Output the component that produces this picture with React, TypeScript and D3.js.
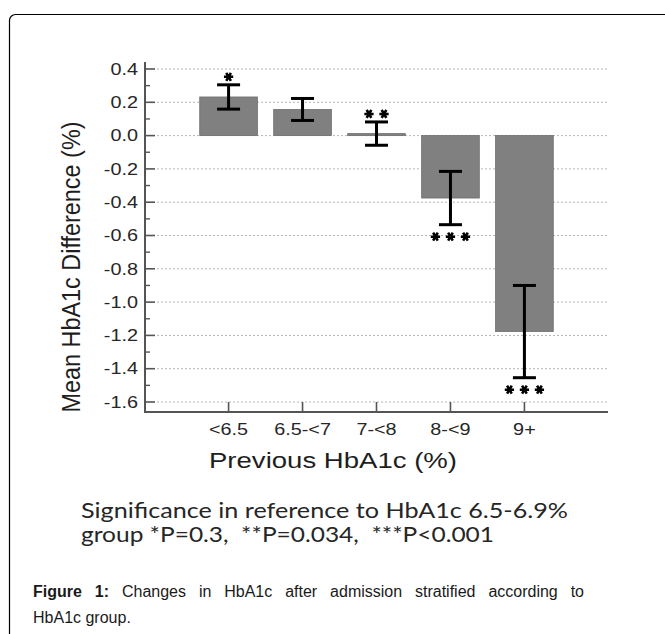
import React, { useEffect, useRef } from "react";
import * as d3 from "d3";

const categories = ["<6.5", "6.5-<7", "7-<8", "8-<9", "9+"];
const meanValues = [0.232, 0.157, 0.012, -0.375, -1.177];
const errorValues = [0.073, 0.066, 0.07, 0.16, 0.277];
const significance = ["*", "", "**", "***", "***"];
const yTicks = [0.4, 0.2, 0.0, -0.2, -0.4, -0.6, -0.8, -1.0, -1.2, -1.4, -1.6];
const yMinorTicks = [0.3, 0.1, -0.1, -0.3, -0.5, -0.7, -0.9, -1.1, -1.3, -1.5];
const yTitle = "Mean HbA1c Difference (%)";
const xTitle = "Previous HbA1c (%)";
const noteLines = [
  "Significance in reference to HbA1c 6.5-6.9%",
  "group *P=0.3,  **P=0.034,  ***P<0.001",
];
const captionLine1 = "Changes in HbA1c after admission stratified according to";
const captionLine2 = "HbA1c group.";

const W = 665;
const H = 634;
const SX = 1.24;

export default function App() {
  const ref = useRef<SVGSVGElement | null>(null);

  useEffect(() => {
    const svg = d3.select(ref.current);
    svg.selectAll("*").remove();

    // frame
    svg
      .append("rect")
      .attr("x", 9.5)
      .attr("y", 14.5)
      .attr("width", 800)
      .attr("height", 800)
      .attr("rx", 6)
      .attr("fill", "#fff")
      .attr("stroke", "#000")
      .attr("stroke-width", 1.2);

    const x = d3
      .scaleBand<string>()
      .domain(categories)
      .range([145, 608])
      .paddingInner(0.22)
      .paddingOuter(0.74);
    const y = d3.scaleLinear().domain([-1.66, 0.43]).range([412, 64]);

    const g = svg.append("g");

    // gridlines
    g.selectAll("line.grid")
      .data(yTicks)
      .join("line")
      .attr("class", "grid")
      .attr("x1", 157)
      .attr("x2", 607)
      .attr("y1", (d) => y(d))
      .attr("y2", (d) => y(d))
      .attr("stroke", "#b4b4b4")
      .attr("stroke-width", 1)
      .attr("stroke-dasharray", "2,2");

    // bars
    g.selectAll("rect.bar")
      .data(categories)
      .join("rect")
      .attr("class", "bar")
      .attr("x", (d) => x(d)!)
      .attr("width", x.bandwidth())
      .attr("y", (d, i) => Math.min(y(meanValues[i]), y(0)))
      .attr("height", (d, i) => Math.max(1.5, Math.abs(y(meanValues[i]) - y(0))))
      .attr("fill", "#808080")
      .attr("stroke", "#6e6e6e")
      .attr("stroke-width", 0.8);

    // error bars
    const cap = 23;
    categories.forEach((c, i) => {
      const cx = x(c)! + x.bandwidth() / 2;
      const top = y(meanValues[i] + errorValues[i]);
      const bot = y(meanValues[i] - errorValues[i]);
      const eg = g.append("g").attr("stroke", "#000").attr("stroke-width", 3);
      eg.append("line").attr("x1", cx).attr("x2", cx).attr("y1", top).attr("y2", bot);
      eg.append("line").attr("x1", cx - cap / 2).attr("x2", cx + cap / 2).attr("y1", top).attr("y2", top);
      eg.append("line").attr("x1", cx - cap / 2).attr("x2", cx + cap / 2).attr("y1", bot).attr("y2", bot);

      const n = significance[i].length;
      if (n > 0) {
        const sy = meanValues[i] >= 0 ? top - 8 : bot + 12;
        const sym = d3.symbol().type(d3.symbolAsterisk).size(60);
        for (let k = 0; k < n; k++) {
          const sx = cx + (k - (n - 1) / 2) * 15;
          g.append("path")
            .attr("d", sym()!)
            .attr("transform", `translate(${sx},${sy}) rotate(90)`)
            .attr("fill", "none")
            .attr("stroke", "#000")
            .attr("stroke-width", 2.6);
        }
      }
    });

    // y axis
    const axisColor = "#555";
    const tickFont = "'Liberation Sans', Arial, sans-serif";
    g.append("line")
      .attr("x1", 145)
      .attr("x2", 145)
      .attr("y1", 62)
      .attr("y2", 412)
      .attr("stroke", axisColor)
      .attr("stroke-width", 2);
    g.selectAll("line.ytick")
      .data(yTicks)
      .join("line")
      .attr("class", "ytick")
      .attr("x1", 145)
      .attr("x2", 155)
      .attr("y1", (d) => y(d))
      .attr("y2", (d) => y(d))
      .attr("stroke", axisColor)
      .attr("stroke-width", 1.6);
    g.selectAll("line.yminor")
      .data(yMinorTicks)
      .join("line")
      .attr("class", "yminor")
      .attr("x1", 145)
      .attr("x2", 150)
      .attr("y1", (d) => y(d))
      .attr("y2", (d) => y(d))
      .attr("stroke", axisColor)
      .attr("stroke-width", 1.4);
    g.selectAll("text.ylab")
      .data(yTicks)
      .join("text")
      .attr("class", "ylab")
      .attr("transform", (d) => `translate(138,${y(d)}) scale(${SX},1)`)
      .attr("dy", "0.36em")
      .attr("text-anchor", "end")
      .attr("font-family", tickFont)
      .attr("font-size", 16)
      .attr("fill", "#262626")
      .text((d) => d3.format(".1f")(d).replace("−", "-"));

    // x axis
    g.append("line")
      .attr("x1", 144)
      .attr("x2", 608)
      .attr("y1", 412)
      .attr("y2", 412)
      .attr("stroke", axisColor)
      .attr("stroke-width", 2);
    g.selectAll("line.xtick")
      .data(categories)
      .join("line")
      .attr("class", "xtick")
      .attr("x1", (d) => x(d)! + x.bandwidth() / 2)
      .attr("x2", (d) => x(d)! + x.bandwidth() / 2)
      .attr("y1", 402)
      .attr("y2", 412)
      .attr("stroke", axisColor)
      .attr("stroke-width", 1.6);
    g.selectAll("text.xlab")
      .data(categories)
      .join("text")
      .attr("class", "xlab")
      .attr("transform", (d) => `translate(${x(d)! + x.bandwidth() / 2},435) scale(${SX},1)`)
      .attr("text-anchor", "middle")
      .attr("font-family", tickFont)
      .attr("font-size", 16)
      .attr("fill", "#262626")
      .text((d) => d);

    // axis titles
    g.append("text")
      .attr("x", 209)
      .attr("y", 468)
      .attr("textLength", 248)
      .attr("lengthAdjust", "spacingAndGlyphs")
      .attr("font-family", tickFont)
      .attr("font-size", 21.5)
      .attr("fill", "#1e1e1e")
      .text(xTitle);

    g.append("text")
      .attr("transform", `translate(80,267) scale(${SX},1) rotate(-90)`)
      .attr("text-anchor", "middle")
      .attr("textLength", 291)
      .attr("lengthAdjust", "spacingAndGlyphs")
      .attr("font-family", tickFont)
      .attr("font-size", 20.5)
      .attr("fill", "#1e1e1e")
      .text(yTitle);

    // note lines
    const noteWidths = [487, 413];
    noteLines.forEach((t, i) => {
      svg
        .append("text")
        .attr("x", 81)
        .attr("y", 518 + i * 24)
        .attr("textLength", noteWidths[i])
        .attr("lengthAdjust", "spacingAndGlyphs")
        .attr("font-family", "Lato, 'Open Sans', sans-serif")
        .attr("font-size", 20.5)
        .attr("fill", "#262626")
        .style("white-space", "pre")
        .text(t);
    });

    // caption, justified first line
    const capFont = "'Liberation Sans', Arial, sans-serif";
    const capSize = 16;
    const left = 33;
    const right = 584;
    const words1 = captionLine1.split(" ");
    const items: { t: string; bold: boolean }[] = [
      { t: "Figure", bold: true },
      { t: "1:", bold: true },
      ...words1.map((w) => ({ t: w, bold: false })),
    ];
    const nodes = items.map((it) =>
      svg
        .append("text")
        .attr("y", 596.5)
        .attr("font-family", capFont)
        .attr("font-size", capSize)
        .attr("font-weight", it.bold ? "bold" : "normal")
        .attr("fill", "#1a1a1a")
        .text(it.t)
    );
    const widths = nodes.map((n) => (n.node() as SVGTextElement).getComputedTextLength());
    const total = d3.sum(widths);
    const gap = Math.max(4.5, (right - left - total) / (items.length - 1));
    let cx = left;
    nodes.forEach((n, i) => {
      n.attr("x", cx);
      cx += widths[i] + gap;
    });
    svg
      .append("text")
      .attr("x", left)
      .attr("y", 623)
      .attr("font-family", capFont)
      .attr("font-size", capSize)
      .attr("fill", "#1a1a1a")
      .text(captionLine2);
  }, []);

  return (
    <svg
      ref={ref}
      width={W}
      height={H}
      style={{ position: "absolute", left: 0, top: 0, background: "#fff" }}
    />
  );
}
